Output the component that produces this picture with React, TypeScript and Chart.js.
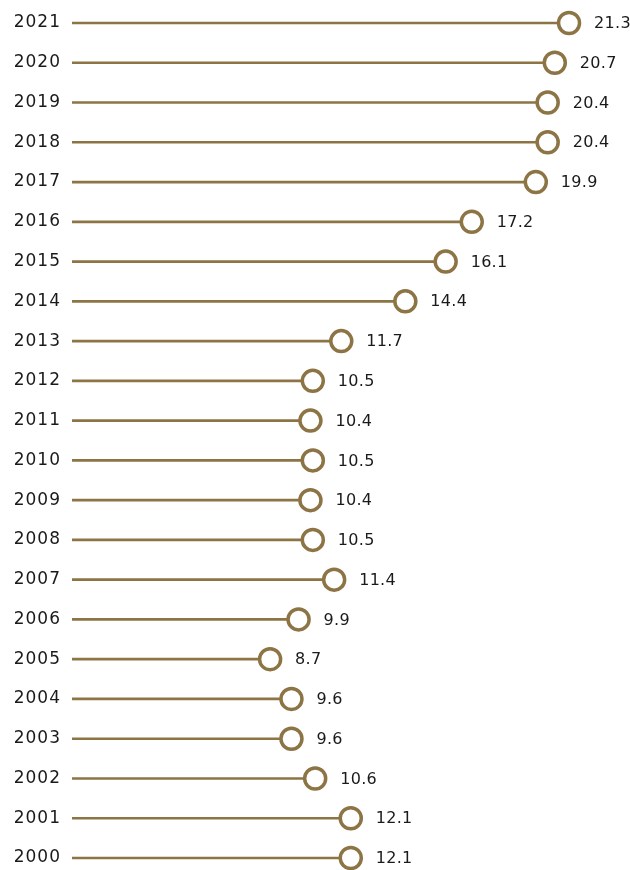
import React, { useEffect, useRef } from "react";
import { Chart, registerables } from "chart.js";

Chart.register(...registerables);

const years = ["2021","2020","2019","2018","2017","2016","2015","2014","2013","2012","2011","2010","2009","2008","2007","2006","2005","2004","2003","2002","2001","2000"];
const values = [21.3,20.7,20.4,20.4,19.9,17.2,16.1,14.4,11.7,10.5,10.4,10.5,10.4,10.5,11.4,9.9,8.7,9.6,9.6,10.6,12.1,12.1];
const valueLabels = values.map((v) => v.toFixed(1));

const GOLD = "#8d7444";

const spacingPlugin = {
  id: "spacing",
  beforeDraw(chart: any) {
    (chart.ctx as any).letterSpacing = "1px";
  },
};

const labelPlugin = {
  id: "valueLabels",
  afterDatasetsDraw(chart: any) {
    const meta = chart.getDatasetMeta(1);
    const ctx = chart.ctx;
    ctx.save();
    (ctx as any).letterSpacing = "0.3px";
    ctx.font = "16px 'DejaVu Sans'";
    ctx.fillStyle = "#1a1a1a";
    ctx.textAlign = "left";
    ctx.textBaseline = "middle";
    meta.data.forEach((pt: any, i: number) => {
      ctx.fillText(valueLabels[i], pt.x + 25, pt.y + 1);
    });
    ctx.restore();
  },
};

export default function App() {
  const ref = useRef<HTMLCanvasElement | null>(null);
  useEffect(() => {
    if (!ref.current) return;
    document.body.style.margin = "0";
    const chart = new Chart(ref.current, {
      type: "bar",
      data: {
        labels: years,
        datasets: [
          {
            type: "bar",
            data: values,
            backgroundColor: GOLD,
            barThickness: 2,
            indexAxis: "y",
            order: 2,
            clip: { left: 0, top: false, right: false, bottom: false },
          } as any,
          {
            type: "line",
            data: values,
            showLine: false,
            indexAxis: "y",
            order: 1,
            pointRadius: 10.5,
            pointBorderWidth: 3.5,
            pointBorderColor: GOLD,
            pointBackgroundColor: "#ffffff",
            clip: false,
          } as any,
        ],
      },
      options: {
        indexAxis: "y",
        animation: false,
        responsive: false,
        layout: { autoPadding: false, padding: { top: 23, bottom: 12, right: 32.5, left: 0 } },
        plugins: { legend: { display: false }, tooltip: { enabled: false } },
        scales: {
          x: {
            min: 0.35,
            max: 22.5,
            display: false,
          },
          y: {
            type: "category",
            offset: false,
            grid: { display: false, drawTicks: false },
            border: { display: false },
            ticks: {
              padding: 11,
              color: "#1a1a1a",
              font: { family: "'DejaVu Sans'", size: 17 },
            },
            afterFit(scale: any) {
              scale.width = 72;
              scale.paddingTop = 0;
              scale.paddingBottom = 0;
            },
          },
        },
      },
      plugins: [spacingPlugin, labelPlugin],
    });
    return () => chart.destroy();
  }, []);
  return (
    <div style={{ width: 630, height: 870 }}>
      <canvas ref={ref} width={630} height={870} style={{ display: "block", width: 630, height: 870 }} />
    </div>
  );
}
